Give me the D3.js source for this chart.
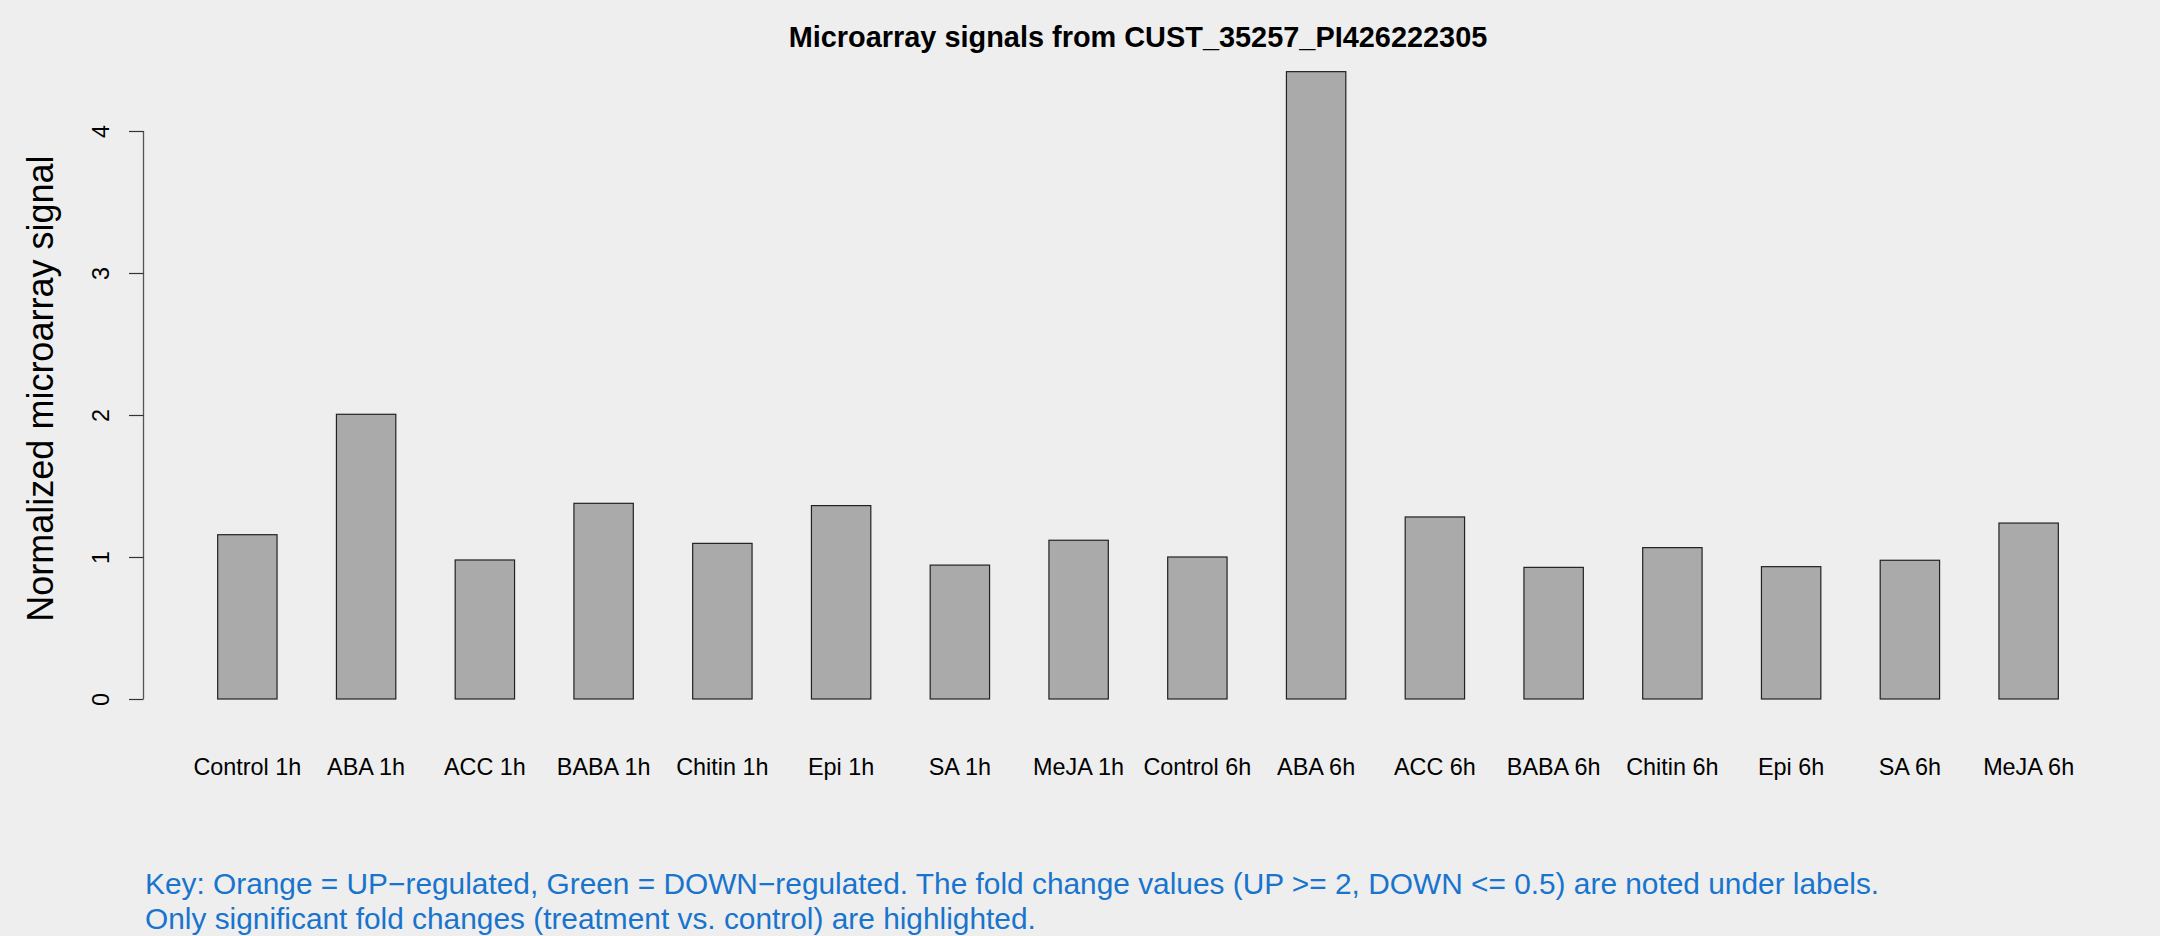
<!DOCTYPE html>
<html>
<head>
<meta charset="utf-8">
<script src="https://cdn.jsdelivr.net/npm/d3@7"></script>
<style>
  html, body { margin: 0; padding: 0; background: #eeeeee; }
  svg { display: block; }
  text { font-family: "Liberation Sans", Arial, Helvetica, sans-serif; }
</style>
</head>
<body>
<script>
// ---- data ----
const categories = ["Control 1h", "ABA 1h", "ACC 1h", "BABA 1h", "Chitin 1h", "Epi 1h", "SA 1h", "MeJA 1h",
                    "Control 6h", "ABA 6h", "ACC 6h", "BABA 6h", "Chitin 6h", "Epi 6h", "SA 6h", "MeJA 6h"];
const signals = [1.157, 2.005, 0.979, 1.378, 1.096, 1.362, 0.943, 1.118,
                 1.0, 4.418, 1.282, 0.927, 1.066, 0.932, 0.977, 1.239];
const yTicks = [0, 1, 2, 3, 4];
const titleText = "Microarray signals from CUST_35257_PI426222305";
const yLabel = "Normalized microarray signal";
const captionLines = [
  "Key: Orange = UP\u2212regulated, Green = DOWN\u2212regulated. The fold change values (UP >= 2, DOWN <= 0.5) are noted under labels.",
  "Only significant fold changes (treatment vs. control) are highlighted."
];

// ---- layout ----
const W = 2160, H = 936;
const svg = d3.select("body").append("svg").attr("width", W).attr("height", H);
svg.append("rect").attr("width", W).attr("height", H).attr("fill", "#eeeeee");

const x = d3.scaleBand().domain(categories).range([158.3, 2117.7]).paddingInner(0.5).paddingOuter(0.5);
const y = d3.scaleLinear().domain([0, 4]).range([699, 131]);
const axisX = 143.5;

// bars
svg.append("g").selectAll("rect").data(signals).join("rect")
  .attr("x", (d, i) => x(categories[i]))
  .attr("y", d => y(d))
  .attr("width", x.bandwidth())
  .attr("height", d => y(0) - y(d))
  .attr("fill", "#aaaaaa")
  .attr("stroke", "#222222")
  .attr("stroke-width", 1.2);

// y axis
const yAxis = d3.axisLeft(y).tickValues(yTicks).tickSize(14.5).tickFormat(d3.format("d"));
const gy = svg.append("g").attr("transform", `translate(${axisX},0)`).call(yAxis);
gy.select(".domain").attr("d", `M0,${y(0)}V${y(4)}`).attr("stroke", "#555").attr("stroke-width", 1.3);
gy.selectAll(".tick line").attr("stroke", "#333").attr("stroke-width", 1.2);
gy.selectAll(".tick text")
  .attr("font-size", 23.4)
  .attr("fill", "#000")
  .attr("x", null).attr("dy", null)
  .attr("text-anchor", "middle")
  .attr("transform", `translate(${109 - axisX},0) rotate(-90)`);

// x labels
svg.append("g").selectAll("text").data(categories).join("text")
  .attr("x", d => x(d) + x.bandwidth() / 2)
  .attr("y", 775)
  .attr("text-anchor", "middle")
  .attr("font-size", 23.4)
  .attr("fill", "#000")
  .text(d => d);

// title
svg.append("text")
  .attr("x", 1138).attr("y", 47)
  .attr("text-anchor", "middle")
  .attr("font-size", 28.9)
  .attr("font-weight", "bold")
  .attr("fill", "#000")
  .text(titleText);

// y label
svg.append("text")
  .attr("transform", `translate(52.5,388.6) rotate(-90)`)
  .attr("text-anchor", "middle")
  .attr("font-size", 36)
  .attr("fill", "#000")
  .text(yLabel);

// caption
svg.append("g").selectAll("text").data(captionLines).join("text")
  .attr("x", 145)
  .attr("y", (d, i) => 894 + i * 35)
  .attr("font-size", 29.85)
  .attr("fill", "#1874CD")
  .text(d => d);
</script>
</body>
</html>
